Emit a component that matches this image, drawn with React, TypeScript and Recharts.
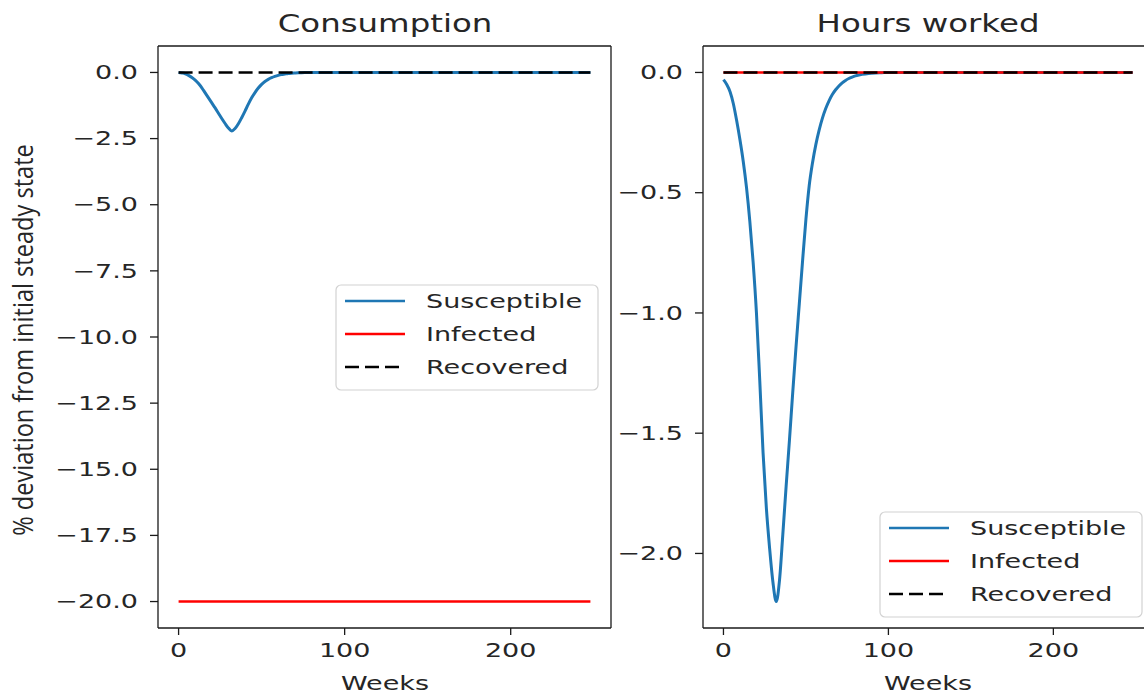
import React from 'react';
import { LineChart, Line, XAxis, YAxis, ReferenceLine } from 'recharts';

// ---------- data ----------
const WEEKS = [
  0, 2, 4, 6, 8, 10, 12, 14, 16, 18,
  20, 22, 24, 26, 28, 30, 32, 34, 36, 38,
  40, 42, 44, 46, 48, 50, 52, 54, 56, 58,
  60, 62, 64, 66, 68, 70, 72, 74, 76, 78,
  80, 84, 88, 92, 96, 100, 125, 150, 175, 200, 225, 248,
];
const CONS_SUSCEPTIBLE = [
  0, -0.02, -0.05, -0.11, -0.19, -0.29, -0.42, -0.58, -0.77, -0.96,
  -1.15, -1.34, -1.54, -1.74, -1.93, -2.1, -2.21, -2.12, -1.94, -1.71,
  -1.46, -1.2, -0.96, -0.76, -0.59, -0.45, -0.34, -0.26, -0.2, -0.15,
  -0.11, -0.08, -0.06, -0.04, -0.028, -0.02, -0.013, -0.009, -0.006, -0.004,
  -0.003, -0.001, 0, 0, 0, 0, 0, 0, 0, 0, 0, 0,
];
const HOURS_SUSCEPTIBLE = [
  -0.03, -0.05, -0.08, -0.13, -0.2, -0.28, -0.37, -0.48, -0.62, -0.79,
  -1.0, -1.28, -1.58, -1.81, -1.98, -2.12, -2.2, -2.11, -1.92, -1.72,
  -1.53, -1.33, -1.14, -0.96, -0.78, -0.61, -0.47, -0.375, -0.3, -0.24,
  -0.19, -0.15, -0.118, -0.092, -0.072, -0.056, -0.043, -0.033, -0.025, -0.019,
  -0.014, -0.008, -0.004, -0.002, -0.001, 0, 0, 0, 0, 0, 0, 0,
];
const FLAT_WEEKS = [0, 248];
const CONS_INFECTED = [-20, -20];
const CONS_RECOVERED = [0, 0];
const HOURS_INFECTED = [0, 0];
const HOURS_RECOVERED = [0, 0];

const SERIES_NAMES = ['Susceptible', 'Infected', 'Recovered'];
const TITLES = ['Consumption', 'Hours worked'];
const X_LABEL = 'Weeks';
const Y_LABEL = '% deviation from initial steady state';
const X_TICKS = [0, 100, 200];
const CONS_Y_TICKS = [0, -2.5, -5, -7.5, -10, -12.5, -15, -17.5, -20];
const HOURS_Y_TICKS = [0, -0.5, -1, -1.5, -2];

// ---------- styles ----------
const BLUE = '#1f77b4';
const RED = '#ff0000';
const BLACK = '#000000';
const AX = '#1a1a1a';
const TXT = '#262626';
const SX = 1.35;
const FONT = 'DejaVu Sans';
const FS = 20;
const X_DOMAIN: [number, number] = [-12.4, 260.4];

const rows = (xs: number[], ys: number[]) => xs.map((w, i) => ({ w, v: ys[i] }));
const fmt = (v: number) => (v < 0 ? '\u2212' : '') + Math.abs(v).toFixed(1);

const YTick = (props: any) => {
  const { x, y, payload } = props;
  return (
    <text
      transform={`translate(${x},${y}) scale(${SX},1)`}
      textAnchor="end"
      dominantBaseline="central"
      fontSize={FS}
      fontFamily={FONT}
      fill={TXT}
    >
      {fmt(payload.value)}
    </text>
  );
};

const XTick = (props: any) => {
  const { x, y, payload } = props;
  return (
    <text
      transform={`translate(${x},${y}) scale(${SX},1)`}
      textAnchor="middle"
      dy="0.8em"
      fontSize={FS}
      fontFamily={FONT}
      fill={TXT}
    >
      {String(payload.value)}
    </text>
  );
};

type PanelProps = {
  left: number;
  width: number;
  yAxisWidth: number;
  marginRight: number;
  sus: number[];
  inf: number[];
  rec: number[];
  yDomain: [number, number];
  yTicks: number[];
};

function Panel(p: PanelProps) {
  return (
    <div style={{ position: 'absolute', left: p.left, top: 0 }}>
      <LineChart
        width={p.width}
        height={694}
        margin={{ top: 46, right: p.marginRight, bottom: 0, left: 0 }}
      >
        <XAxis
          dataKey="w"
          type="number"
          domain={X_DOMAIN}
          ticks={X_TICKS}
          allowDataOverflow
          height={66}
          tickSize={7}
          tickMargin={6}
          tick={<XTick />}
          tickLine={{ stroke: AX, strokeWidth: 1.3 }}
          axisLine={{ stroke: AX, strokeWidth: 1.3 }}
        />
        <YAxis
          type="number"
          domain={p.yDomain}
          ticks={p.yTicks}
          allowDataOverflow
          width={p.yAxisWidth}
          tickSize={8}
          tickMargin={12}
          tick={<YTick />}
          tickLine={{ stroke: AX, strokeWidth: 1.3 }}
          axisLine={{ stroke: AX, strokeWidth: 1.3 }}
        />
        <ReferenceLine y={p.yDomain[1]} stroke={AX} strokeWidth={1.3} ifOverflow="visible" />
        <ReferenceLine x={X_DOMAIN[1]} stroke={AX} strokeWidth={1.3} ifOverflow="visible" />
        <Line
          data={rows(WEEKS, p.sus)}
          dataKey="v"
          name={SERIES_NAMES[0]}
          type="monotone"
          stroke={BLUE}
          strokeWidth={3}
          dot={false}
          isAnimationActive={false}
        />
        <Line
          data={rows(FLAT_WEEKS, p.inf)}
          dataKey="v"
          name={SERIES_NAMES[1]}
          type="linear"
          stroke={RED}
          strokeWidth={2.6}
          dot={false}
          isAnimationActive={false}
        />
        <Line
          data={rows(FLAT_WEEKS, p.rec)}
          dataKey="v"
          name={SERIES_NAMES[2]}
          type="linear"
          stroke={BLACK}
          strokeWidth={2.6}
          strokeDasharray="14 6"
          dot={false}
          isAnimationActive={false}
        />
      </LineChart>
    </div>
  );
}

const LEGEND_COLORS = [BLUE, RED, BLACK];
const LEGEND_DASH = [undefined, undefined, '14 6'];

function LegendBox({ x, y }: { x: number; y: number }) {
  return (
    <g>
      <rect x={x} y={y} width={262} height={105} rx={5} ry={5} fill="#ffffff" fillOpacity={0.8} stroke="#d2d2d2" strokeWidth={1.2} />
      {SERIES_NAMES.map((n, i) => {
        const cy = y + 16 + i * 33;
        return (
          <g key={n}>
            <line x1={x + 9} x2={x + 69} y1={cy} y2={cy} stroke={LEGEND_COLORS[i]} strokeWidth={2.6} strokeDasharray={LEGEND_DASH[i]} />
            <text
              transform={`translate(${x + 90},${cy}) scale(${SX},1)`}
              dominantBaseline="central"
              fontSize={FS}
              fontFamily={FONT}
              fill={TXT}
            >
              {n}
            </text>
          </g>
        );
      })}
    </g>
  );
}

export default function App() {
  return (
    <div
      style={{
        position: 'absolute',
        left: 0,
        top: 0,
        width: 1144,
        height: 694,
        overflow: 'hidden',
        background: '#ffffff',
      }}
    >
      <Panel
        left={0}
        width={625}
        yAxisWidth={158}
        marginRight={14}
        sus={CONS_SUSCEPTIBLE}
        inf={CONS_INFECTED}
        rec={CONS_RECOVERED}
        yDomain={[-21, 1]}
        yTicks={CONS_Y_TICKS}
      />
      <Panel
        left={595}
        width={565}
        yAxisWidth={108}
        marginRight={7}
        sus={HOURS_SUSCEPTIBLE}
        inf={HOURS_INFECTED}
        rec={HOURS_RECOVERED}
        yDomain={[-2.31, 0.11]}
        yTicks={HOURS_Y_TICKS}
      />
      <svg
        width={1144}
        height={694}
        style={{ position: 'absolute', left: 0, top: 0, pointerEvents: 'none' }}
      >
        <text transform={`translate(385,32) scale(${SX},1)`} textAnchor="middle" fontSize={24} fontFamily={FONT} fill={TXT}>
          {TITLES[0]}
        </text>
        <text transform={`translate(928,32) scale(${SX},1)`} textAnchor="middle" fontSize={24} fontFamily={FONT} fill={TXT}>
          {TITLES[1]}
        </text>
        <text transform={`translate(385,690) scale(${SX},1)`} textAnchor="middle" fontSize={FS} fontFamily={FONT} fill={TXT}>
          {X_LABEL}
        </text>
        <text transform={`translate(928,690) scale(${SX},1)`} textAnchor="middle" fontSize={FS} fontFamily={FONT} fill={TXT}>
          {X_LABEL}
        </text>
        <text
          transform={`translate(33,340) scale(1.35,1.18) rotate(-90)`}
          textAnchor="middle"
          fontSize={20}
          fontFamily="Open Sans"
          fill={TXT}
        >
          {Y_LABEL}
        </text>
        <LegendBox x={336} y={285} />
        <LegendBox x={880} y={512} />
      </svg>
    </div>
  );
}
